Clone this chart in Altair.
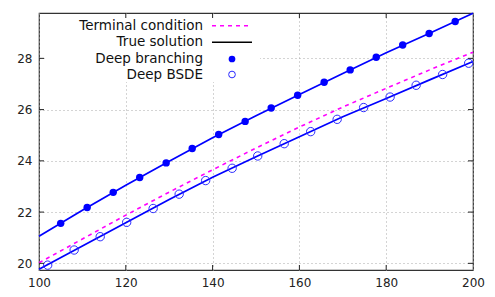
import altair as alt
import pandas as pd

# Deep branching (filled points)
x_branch = [105.0, 111.1, 117.1, 123.2, 129.3, 135.3, 141.4, 147.5, 153.5, 159.6,
            165.7, 171.7, 177.7, 183.8, 189.9, 195.9]
y_branch = [21.56, 22.18, 22.77, 23.35, 23.92, 24.48, 25.03, 25.54, 26.06, 26.56,
            27.07, 27.55, 28.04, 28.52, 28.97, 29.44]

# Deep BSDE (open circles)
x_bsde = [102.0, 108.1, 114.1, 120.2, 126.3, 132.3, 138.4, 144.5, 150.4, 156.5,
          162.6, 168.7, 174.8, 180.9, 186.9, 193.0, 199.0]
y_bsde = [19.93, 20.52, 21.04, 21.60, 22.14, 22.70, 23.23, 23.71, 24.19, 24.67,
          25.14, 25.62, 26.08, 26.49, 26.95, 27.37, 27.81]

# True solution curves and terminal condition
x_grid = [100, 110, 120, 130, 140, 150, 160, 170, 180, 190, 200]
true_upper = [21.06, 22.07, 23.05, 23.98, 24.90, 25.76, 26.59, 27.41, 28.22, 28.98, 29.76]
true_lower = [19.77, 20.68, 21.58, 22.49, 23.36, 24.16, 24.94, 25.72, 26.43, 27.16, 27.88]
terminal = [20.02, 20.95, 21.88, 22.78, 23.65, 24.50, 25.32, 26.10, 26.83, 27.55, 28.24]

x_ticks = [100, 120, 140, 160, 180, 200]
y_ticks = [20, 22, 24, 26, 28]

W, H = 434, 257
FONT = "DejaVu Sans"
BLUE = "#0000ff"
MAGENTA = "#ff00ff"

xsc = alt.Scale(domain=[100, 200], nice=False, zero=False)
ysc = alt.Scale(domain=[19.74, 29.77], nice=False, zero=False)

ax_x = alt.Axis(values=x_ticks, grid=True, gridDash=[1, 3], gridColor="#a8a8a8",
                ticks=False, domain=False, labelPadding=7, labelFontSize=12,
                labelFont=FONT, labelColor="#222222", title=None, labelFlush=False)
ax_y = alt.Axis(values=y_ticks, grid=True, gridDash=[1, 3], gridColor="#a8a8a8",
                ticks=False, domain=False, labelPadding=7, labelFontSize=12,
                labelFont=FONT, labelColor="#222222", title=None)

df_curves = pd.DataFrame({"x": x_grid, "upper": true_upper, "lower": true_lower,
                          "term": terminal})
df_b = pd.DataFrame({"x": x_branch, "y": y_branch})
df_s = pd.DataFrame({"x": x_bsde, "y": y_bsde})

base = alt.Chart(df_curves)
upper = base.mark_line(color=BLUE, strokeWidth=1.7).encode(
    x=alt.X("x:Q", scale=xsc, axis=ax_x), y=alt.Y("upper:Q", scale=ysc, axis=ax_y))
lower = base.mark_line(color=BLUE, strokeWidth=1.7).encode(
    x=alt.X("x:Q", scale=xsc), y=alt.Y("lower:Q", scale=ysc))
term = base.mark_line(color=MAGENTA, strokeWidth=1.6, strokeDash=[4, 4]).encode(
    x=alt.X("x:Q", scale=xsc), y=alt.Y("term:Q", scale=ysc))

pts_b = alt.Chart(df_b).mark_point(filled=True, color=BLUE, size=55, opacity=1).encode(
    x=alt.X("x:Q", scale=xsc), y=alt.Y("y:Q", scale=ysc))
pts_s = alt.Chart(df_s).mark_point(filled=False, color="#2a2aff", size=70,
                                     strokeWidth=1, opacity=1).encode(
    x=alt.X("x:Q", scale=xsc), y=alt.Y("y:Q", scale=ysc))

one = pd.DataFrame({"k": [0]})
leg_box = alt.Chart(one).mark_rect(color="white").encode(
    x=alt.value(8), x2=alt.value(221), y=alt.value(1), y2=alt.value(69))

labels = ["Terminal condition", "True solution", "Deep branching", "Deep BSDE"]
rows_y = [12.7, 29.3, 46, 61.5]
leg_layers = []
for lab, yy in zip(labels, rows_y):
    leg_layers.append(alt.Chart(one).mark_text(align="right", baseline="middle",
                                               fontSize=13.5, font=FONT, color="#111111").encode(
        x=alt.value(164), y=alt.value(yy), text=alt.value(lab)))
leg_layers.append(alt.Chart(one).mark_rule(color=MAGENTA, strokeWidth=1.6, strokeDash=[4, 4]).encode(
    x=alt.value(173), x2=alt.value(213), y=alt.value(rows_y[0])))
leg_layers.append(alt.Chart(one).mark_rule(color="black", strokeWidth=1.6).encode(
    x=alt.value(173), x2=alt.value(213), y=alt.value(rows_y[1])))
leg_layers.append(alt.Chart(one).mark_point(filled=True, color=BLUE, size=45, opacity=1).encode(
    x=alt.value(193), y=alt.value(rows_y[2])))
leg_layers.append(alt.Chart(one).mark_point(filled=False, color="#2a2aff", size=45,
                                            strokeWidth=1, opacity=1).encode(
    x=alt.value(193), y=alt.value(rows_y[3])))

df_xt = pd.DataFrame({"v": x_ticks[1:-1]})
df_yt = pd.DataFrame({"v": y_ticks})
tk = "#222222"
tick_bottom = alt.Chart(df_xt).mark_rule(color=tk).encode(
    x=alt.X("v:Q", scale=xsc), y=alt.value(H), y2=alt.value(H - 5))
tick_top = alt.Chart(df_xt).mark_rule(color=tk).encode(
    x=alt.X("v:Q", scale=xsc), y=alt.value(0), y2=alt.value(5))
tick_left = alt.Chart(df_yt).mark_rule(color=tk).encode(
    y=alt.Y("v:Q", scale=ysc), x=alt.value(0), x2=alt.value(5))
tick_right = alt.Chart(df_yt).mark_rule(color=tk).encode(
    y=alt.Y("v:Q", scale=ysc), x=alt.value(W), x2=alt.value(W - 5))

chart = alt.layer(upper, lower, term, pts_b, pts_s, leg_box, *leg_layers,
                  tick_bottom, tick_top, tick_left, tick_right).properties(
    width=W, height=H,
    autosize=alt.AutoSizeParams(type="none"),
    padding={"left": 31, "top": 5, "right": 14, "bottom": 19},
).configure_view(stroke="#333333", strokeWidth=1.2)

chart.save("out.html", embed_options={"renderer": "svg", "actions": False})
